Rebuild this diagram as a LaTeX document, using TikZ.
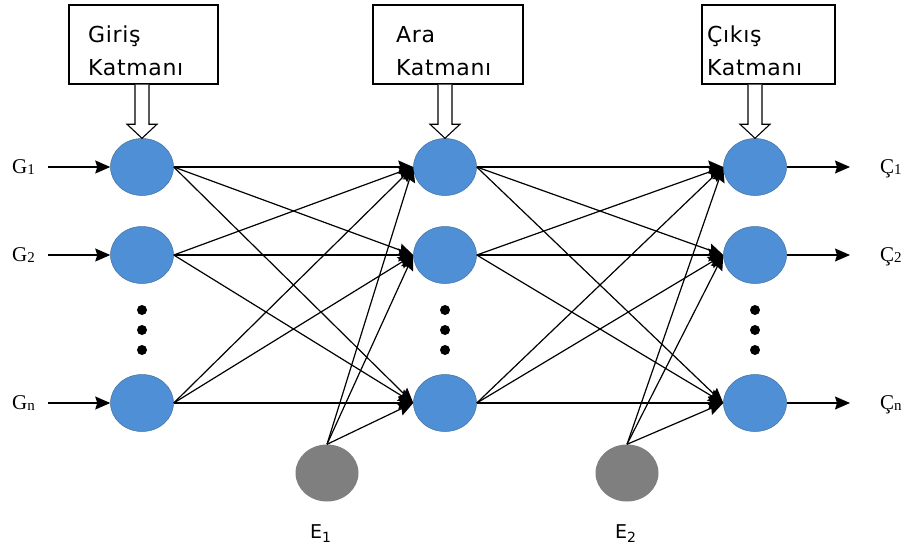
\documentclass[tikz,border=0pt]{standalone}
\usepackage{fontspec}
\setmainfont{Liberation Serif}
\newfontfamily\boxfont[LetterSpace=3]{DejaVu Sans}
\newfontfamily\efont{DejaVu Sans}
\usetikzlibrary{shapes.geometric,arrows.meta,calc}
\definecolor{nblue}{RGB}{79,143,214}
\definecolor{nblueedge}{RGB}{65,113,156}
\definecolor{ngray}{RGB}{127,127,127}
\newcommand{\mysub}[1]{\raisebox{-1.5pt}{\fontsize{15}{15}\selectfont #1}}
\newcommand{\myesub}[1]{\raisebox{-4pt}{\fontsize{14}{14}\selectfont #1}}
\begin{document}
\begin{tikzpicture}[x=1pt,y=-1pt,
  neuron/.style={ellipse,minimum width=63pt,minimum height=57pt,inner sep=0pt,fill=nblue,draw=nblueedge,line width=0.5pt},
  bias/.style={ellipse,minimum width=63pt,minimum height=57pt,inner sep=0pt,fill=ngray},
  layerbox/.style={rectangle,draw,line width=1.1pt,inner sep=0pt},
  boxtxt/.style={inner sep=0pt,anchor=base west,font=\boxfont\fontsize{22}{22}\selectfont},
  iolbl/.style={inner sep=0pt,anchor=base west,font=\fontsize{21}{21}\selectfont},
  elbl/.style={inner sep=0pt,anchor=base west,font=\efont\fontsize{19}{19}\selectfont},
  conn/.style={line width=1.2pt,-{Stealth[length=15pt,width=13pt,inset=2pt]}},
  hollow/.style={draw,fill=white,line width=1.1pt,line join=miter},
  vdot/.style={circle,fill=black,minimum size=10pt,inner sep=0pt}]
\useasboundingbox (0,0) rectangle (912,551);

% layer boxes
\node[layerbox,minimum width=149pt,minimum height=79pt] (b1) at (143.5,44.5) {};
\node[layerbox,minimum width=150pt,minimum height=79pt] (b2) at (448,44.5) {};
\node[layerbox,minimum width=133pt,minimum height=79pt] (b3) at (768.5,44.5) {};
\node[boxtxt] (t1a) at (88,42) {Giriş};
\node[boxtxt] (t1b) at (88,75) {Katmanı};
\node[boxtxt] (t2a) at (396,42) {Ara};
\node[boxtxt] (t2b) at (396,75) {Katmanı};
\node[boxtxt] (t3a) at (707,42) {Çıkış};
\node[boxtxt] (t3b) at (707,75) {Katmanı};

% neurons
\node[neuron] (g1) at (142,167) {};
\node[neuron] (g2) at (142,255) {};
\node[neuron] (gn) at (142,403) {};
\node[neuron] (a1) at (445,167) {};
\node[neuron] (a2) at (445,255) {};
\node[neuron] (an) at (445,403) {};
\node[neuron] (c1) at (755,167) {};
\node[neuron] (c2) at (755,255) {};
\node[neuron] (cn) at (755,403) {};
\node[bias] (e1) at (327,473) {};
\node[bias] (e2) at (627,473) {};

% dots
\foreach \xx/\nm in {142/g,445/a,755/c}{
  \node[vdot] (\nm d1) at (\xx,310) {};
  \node[vdot] (\nm d2) at (\xx,330) {};
  \node[vdot] (\nm d3) at (\xx,350) {};
}

% hollow arrows from boxes
\foreach \b/\n in {b1/g1,b2/a1,b3/c1}{
  \draw[hollow] ($(\b.south -| \n.north)+(-7,0)$) -- ($(\n.north)+(-7,-14)$) -- ($(\n.north)+(-15,-14)$) -- (\n.north) -- ($(\n.north)+(15,-14)$) -- ($(\n.north)+(7,-14)$) -- ($(\b.south -| \n.north)+(7,0)$);
}

% labels
\node[iolbl] (lg1) at (12,173) {G\mysub{1}};
\node[iolbl] (lg2) at (12,261) {G\mysub{2}};
\node[iolbl] (lgn) at (12,409) {G\mysub{n}};
\node[iolbl] (lc1) at (880,173) {Ç\mysub{1}};
\node[iolbl] (lc2) at (880,261) {Ç\mysub{2}};
\node[iolbl] (lcn) at (880,409) {Ç\mysub{n}};
\node[elbl] (le1) at (310,538) {E\myesub{1}};
\node[elbl] (le2) at (615,538) {E\myesub{2}};

% input/output arrows
\coordinate (in1) at (48,167);
\coordinate (in2) at (48,255);
\coordinate (inn) at (48,403);
\coordinate (out1) at (850,167);
\coordinate (out2) at (850,255);
\coordinate (outn) at (850,403);
\draw[conn] (in1) -- (g1.west);
\draw[conn] (in2) -- (g2.west);
\draw[conn] (inn) -- (gn.west);
\draw[conn] (c1.east) -- (out1);
\draw[conn] (c2.east) -- (out2);
\draw[conn] (cn.east) -- (outn);

% full connections
\foreach \s in {g1,g2,gn}{
  \foreach \t in {a1,a2,an}{
    \draw[conn] (\s.east) -- (\t.west);
  }
}
\foreach \s in {a1,a2,an}{
  \foreach \t in {c1,c2,cn}{
    \draw[conn] (\s.east) -- (\t.west);
  }
}
\foreach \t in {a1,a2,an}{
  \draw[conn] (e1.north) -- (\t.west);
}
\foreach \t in {c1,c2,cn}{
  \draw[conn] (e2.north) -- (\t.west);
}
\end{tikzpicture}
\end{document}
